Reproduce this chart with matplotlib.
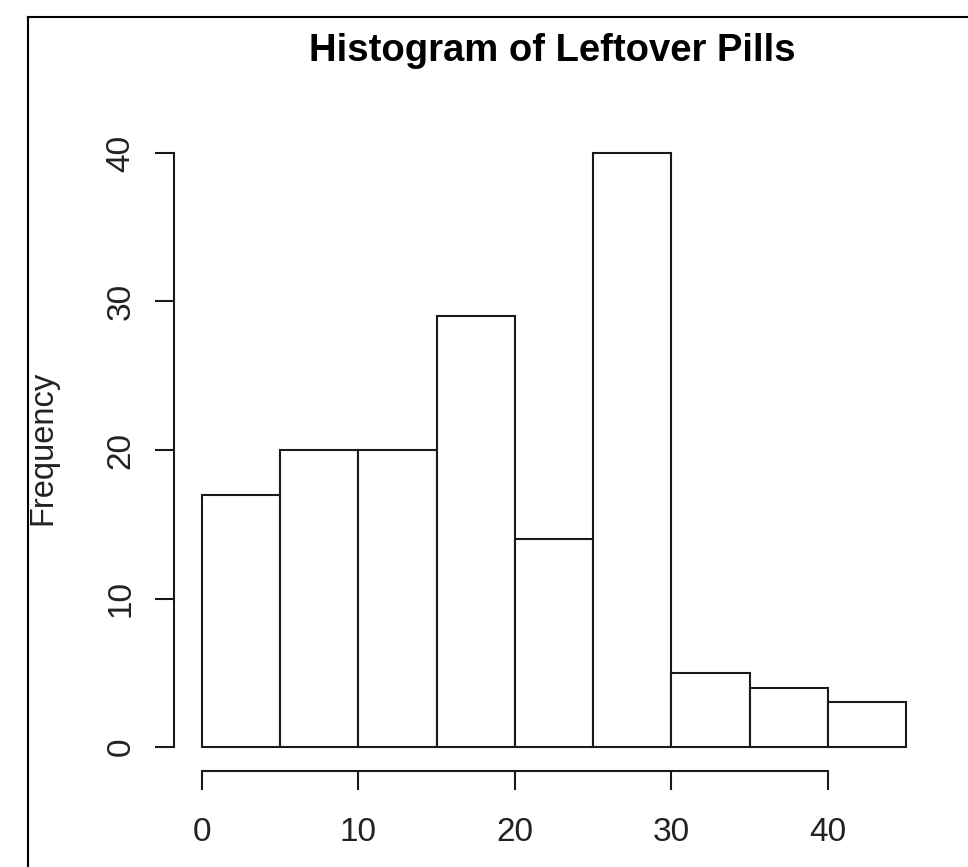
import matplotlib
matplotlib.use('Agg')
import matplotlib.pyplot as plt
from matplotlib.lines import Line2D

plt.rcParams['font.family'] = ['Liberation Sans', 'DejaVu Sans']

# histogram bins and counts
bin_edges = [0, 5, 10, 15, 20, 25, 30, 35, 40, 45]
counts = [17, 20, 20, 29, 14, 40, 5, 4, 3]
x_ticks = [0, 10, 20, 30, 40]
y_ticks = [0, 10, 20, 30, 40]
title = "Histogram of Leftover Pills"
y_label = "Frequency"

W, H = 968, 867
fig = plt.figure(figsize=(W / 100, H / 100), dpi=100)
ax = fig.add_axes([173.8 / W, 1 - 770.8 / H, (934.4 - 173.8) / W, (770.8 - 129.2) / H])

widths = [b - a for a, b in zip(bin_edges[:-1], bin_edges[1:])]
ax.bar(bin_edges[:-1], counts, width=widths, align='edge',
       facecolor='white', edgecolor='#1a1a1a', linewidth=1.5)

ax.set_xlim(-1.8, 46.8)
ax.set_ylim(-1.6, 41.6)
for s in ('top', 'right'):
    ax.spines[s].set_visible(False)
ax.spines['left'].set_bounds(0, 40)
ax.spines['bottom'].set_bounds(0, 40)
for s in ('left', 'bottom'):
    ax.spines[s].set_linewidth(1.5)
    ax.spines[s].set_color('#1a1a1a')

ax.set_xticks(x_ticks)
ax.set_yticks(y_ticks)
ax.tick_params(length=14, width=1.5, color='#1a1a1a', labelsize=24, labelcolor='#222222')
ax.tick_params(axis='x', pad=19)
ax.tick_params(axis='y', pad=13)
ax.set_yticklabels([str(v) for v in y_ticks], rotation=90, va='center')

fig.text(552 / W, 1 - 51 / H, title, ha='center', va='center',
         fontsize=27.5, fontweight='bold')
fig.text(42.5 / W, 1 - 448 / H, y_label, ha='center', va='center',
         rotation=90, fontsize=23.5, color='#222222')

# outer frame (left and top edges visible)
fig.add_artist(Line2D([28 / W, 28 / W], [0, 1 - 17 / H], transform=fig.transFigure,
                      color='black', linewidth=1.5))
fig.add_artist(Line2D([28 / W, 1], [1 - 17 / H, 1 - 17 / H], transform=fig.transFigure,
                      color='black', linewidth=1.5))

fig.savefig('out.png', dpi=100)
